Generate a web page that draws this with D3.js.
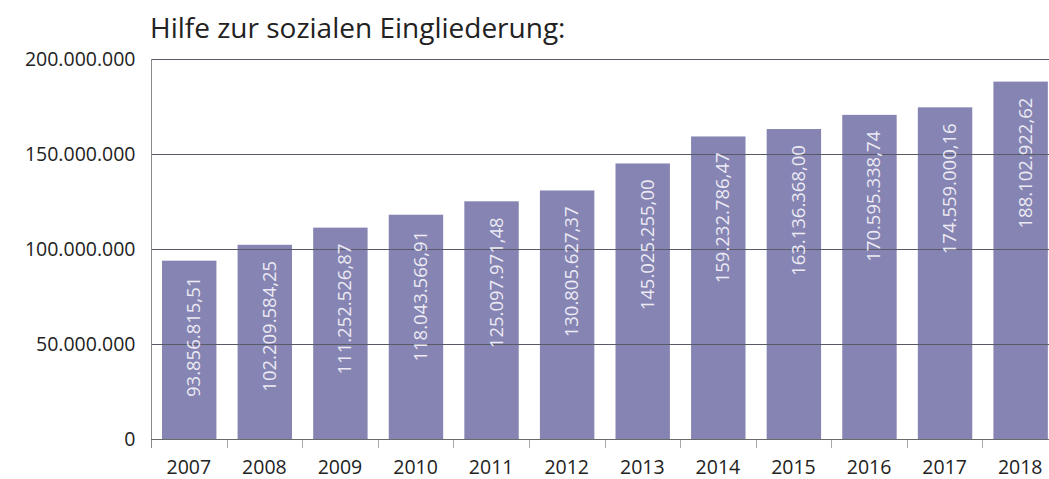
<!DOCTYPE html>
<html lang="de">
<head>
<meta charset="utf-8">
<title>Hilfe zur sozialen Eingliederung</title>
<script src="https://cdnjs.cloudflare.com/ajax/libs/d3/7.8.5/d3.min.js"></script>
<style>
  body { margin: 0; background: #fff; }
  text { font-family: "Open Sans", sans-serif; }
</style>
</head>
<body>
<script>
var years = ["2007","2008","2009","2010","2011","2012","2013","2014","2015","2016","2017","2018"];
var values = [93856815.51, 102209584.25, 111252526.87, 118043566.91, 125097971.48, 130805627.37,
              145025255.00, 159232786.47, 163136368.00, 170595338.74, 174559000.16, 188102922.62];
var valueLabels = ["93.856.815,51","102.209.584,25","111.252.526,87","118.043.566,91","125.097.971,48",
                   "130.805.627,37","145.025.255,00","159.232.786,47","163.136.368,00","170.595.338,74",
                   "174.559.000,16","188.102.922,62"];
var yTicks = [0, 50000000, 100000000, 150000000, 200000000];
var yTickLabels = ["0","50.000.000","100.000.000","150.000.000","200.000.000"];

var w = 1049, h = 479;
var plotLeft = 151, plotRight = 1058, plotTop = 59, plotBottom = 439;

var svg = d3.select("body").append("svg")
  .attr("width", w).attr("height", h);

var x = d3.scaleBand().domain(years).range([plotLeft, plotRight]).padding(0);
var y = d3.scaleLinear().domain([0, 200000000]).range([plotBottom, plotTop]);

svg.append("text")
  .attr("x", 150).attr("y", 38)
  .attr("font-size", "28px")
  .attr("fill", "#222")
  .text("Hilfe zur sozialen Eingliederung:");

// bars
var bw = x.bandwidth() * 0.72;
svg.selectAll("rect.bar")
  .data(values)
  .enter().append("rect")
  .attr("class", "bar")
  .attr("x", function(d, i) { return x(years[i]) + 11; })
  .attr("y", function(d) { return y(d); })
  .attr("width", bw)
  .attr("height", function(d) { return plotBottom - y(d); })
  .attr("fill", "#8584b2");

// gridlines over the bars
svg.selectAll("line.grid")
  .data(yTicks.slice(1))
  .enter().append("line")
  .attr("class", "grid")
  .attr("x1", plotLeft).attr("x2", w)
  .attr("y1", function(d) { return Math.round(y(d)) + 0.5; })
  .attr("y2", function(d) { return Math.round(y(d)) + 0.5; })
  .attr("stroke", "#5a5a66").attr("stroke-width", 1);

// value labels
svg.selectAll("text.val")
  .data(values)
  .enter().append("text")
  .attr("class", "val")
  .attr("transform", function(d, i) {
    var cx = x(years[i]) + 11 + bw / 2 + 11;
    return "translate(" + cx + "," + (y(d) + 16) + ") rotate(-90)";
  })
  .attr("text-anchor", "end")
  .attr("font-size", "18.5px")
  .attr("fill", "#eceaf4")
  .text(function(d, i) { return valueLabels[i]; });

// y axis
var yAxis = d3.axisLeft(y).tickValues(yTicks)
  .tickFormat(function(d, i) { return yTickLabels[i]; })
  .tickSize(0).tickPadding(16);
var gy = svg.append("g").attr("transform", "translate(" + (plotLeft + 0.5) + ",0)").call(yAxis);
gy.select(".domain").remove();
gy.selectAll("text").attr("font-size", "19.5px").attr("fill", "#222").attr("font-family", "Open Sans, sans-serif");
svg.append("line")
  .attr("x1", plotLeft + 0.5).attr("x2", plotLeft + 0.5)
  .attr("y1", plotTop).attr("y2", plotBottom + 9)
  .attr("stroke", "#8a8a8a");

// x axis
var xAxis = d3.axisBottom(x).tickSize(0).tickPadding(21);
var gx = svg.append("g").attr("transform", "translate(0," + (plotBottom + 0.5) + ")").call(xAxis);
gx.select(".domain").remove();
gx.selectAll("text").attr("font-size", "19.5px").attr("fill", "#222").attr("font-family", "Open Sans, sans-serif");
svg.append("line")
  .attr("x1", plotLeft).attr("x2", w)
  .attr("y1", plotBottom + 0.5).attr("y2", plotBottom + 0.5)
  .attr("stroke", "#6a6a6a");
svg.selectAll("line.xtick")
  .data(years.slice(1))
  .enter().append("line")
  .attr("class", "xtick")
  .attr("x1", function(d) { return Math.round(x(d)) + 0.5; })
  .attr("x2", function(d) { return Math.round(x(d)) + 0.5; })
  .attr("y1", plotBottom + 1).attr("y2", plotBottom + 9)
  .attr("stroke", "#a8a8a8");
</script>
</body>
</html>
